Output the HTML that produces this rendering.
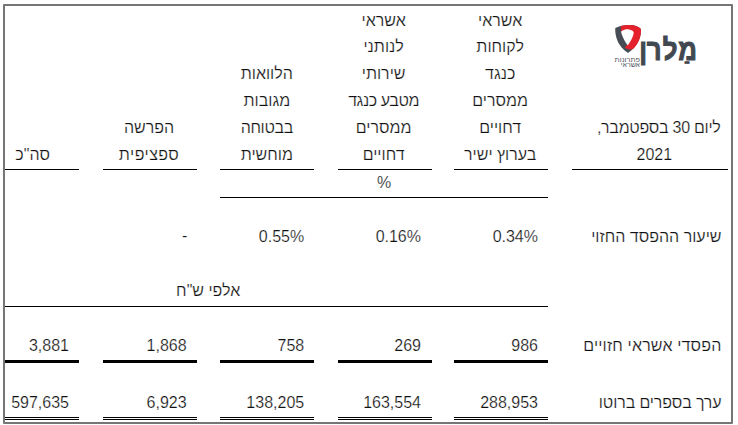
<!DOCTYPE html>
<html lang="he">
<head>
<meta charset="utf-8">
<title>מלרן</title>
<style>
html,body{margin:0;padding:0;background:#fff;}
body{width:738px;height:425px;position:relative;overflow:hidden;font-family:"Liberation Sans",sans-serif;font-size:16px;color:#111;-webkit-text-stroke:0.22px #fff;}
.frame{position:absolute;left:3px;top:4px;width:726px;height:416px;border:2px solid #767676;border-radius:1px;}
.l{position:absolute;background:#000;}
.t{position:absolute;white-space:nowrap;line-height:20px;height:20px;direction:rtl;}
.c{text-align:center;width:200px;}
.r{text-align:right;width:200px;direction:rtl;}
.n{direction:ltr;}
svg{position:absolute;left:605px;top:15px;}
</style>
</head>
<body>
<div class="frame"></div>

<div class="l" style="left:5px;top:169px;width:74px;height:1px"></div>
<div class="l" style="left:103px;top:169px;width:94px;height:1px"></div>
<div class="l" style="left:220px;top:169px;width:94px;height:1px"></div>
<div class="l" style="left:338px;top:169px;width:94px;height:1px"></div>
<div class="l" style="left:454px;top:169px;width:94px;height:1px"></div>
<div class="l" style="left:572px;top:169px;width:156px;height:1px"></div>
<div class="l" style="left:220px;top:197px;width:328px;height:1px"></div>
<div class="l" style="left:5px;top:306px;width:543px;height:1px"></div>
<div class="l" style="left:5px;top:360px;width:74px;height:3px"></div>
<div class="l" style="left:5px;top:417px;width:74px;height:1px"></div>
<div class="l" style="left:5px;top:419px;width:74px;height:1px"></div>
<div class="l" style="left:103px;top:360px;width:94px;height:3px"></div>
<div class="l" style="left:103px;top:417px;width:94px;height:1px"></div>
<div class="l" style="left:103px;top:419px;width:94px;height:1px"></div>
<div class="l" style="left:220px;top:360px;width:94px;height:3px"></div>
<div class="l" style="left:220px;top:417px;width:94px;height:1px"></div>
<div class="l" style="left:220px;top:419px;width:94px;height:1px"></div>
<div class="l" style="left:338px;top:360px;width:94px;height:3px"></div>
<div class="l" style="left:338px;top:417px;width:94px;height:1px"></div>
<div class="l" style="left:338px;top:419px;width:94px;height:1px"></div>
<div class="l" style="left:454px;top:360px;width:94px;height:3px"></div>
<div class="l" style="left:454px;top:417px;width:94px;height:1px"></div>
<div class="l" style="left:454px;top:419px;width:94px;height:1px"></div>
<div class="t c" style="left:400.20px;top:11.00px;">אשראי</div>
<div class="t c" style="left:400.20px;top:37.00px;">לקוחות</div>
<div class="t c" style="left:400.20px;top:64.00px;">כנגד</div>
<div class="t c" style="left:400.20px;top:91.00px;">ממסרים</div>
<div class="t c" style="left:400.20px;top:118.00px;">דחויים</div>
<div class="t c" style="left:400.20px;top:145.00px;">בערוץ ישיר</div>
<div class="t c" style="left:283.60px;top:11.00px;">אשראי</div>
<div class="t c" style="left:283.60px;top:37.00px;">לנותני</div>
<div class="t c" style="left:283.60px;top:64.00px;">שירותי</div>
<div class="t c" style="left:283.60px;top:91.00px;letter-spacing:-0.42px;">מטבע כנגד</div>
<div class="t c" style="left:283.60px;top:118.00px;">ממסרים</div>
<div class="t c" style="left:283.60px;top:145.00px;">דחויים</div>
<div class="t c" style="left:166.80px;top:64.00px;">הלוואות</div>
<div class="t c" style="left:166.80px;top:91.00px;">מגובות</div>
<div class="t c" style="left:166.80px;top:118.00px;letter-spacing:-0.35px;">בבטוחה</div>
<div class="t c" style="left:166.80px;top:145.00px;">מוחשית</div>
<div class="t c" style="left:49.10px;top:118.00px;">הפרשה</div>
<div class="t c" style="left:49.10px;top:145.00px;letter-spacing:0.45px;">ספציפית</div>
<div class="t c" style="left:-67.40px;top:145.00px;">סה"כ</div>
<div class="t r" style="left:520.60px;top:118.00px;letter-spacing:-0.27px;">ליום 30 בספטמבר,</div>
<div class="t c n" style="left:554.30px;top:145.00px;">2021</div>
<div class="t c n" style="left:284.20px;top:173.00px;">%</div>
<div class="t r n" style="left:338.00px;top:227.00px;">0.34%</div>
<div class="t r n" style="left:221.00px;top:227.00px;">0.16%</div>
<div class="t r n" style="left:104.20px;top:227.00px;">0.55%</div>
<div class="t r n" style="left:-12.60px;top:226.00px;">-</div>
<div class="t r" style="left:521.50px;top:227.00px;">שיעור ההפסד החזוי</div>
<div class="t c" style="left:108.20px;top:281.00px;">אלפי ש"ח</div>
<div class="t r n" style="left:338.00px;top:336.00px;">986</div>
<div class="t r n" style="left:221.00px;top:336.00px;">269</div>
<div class="t r n" style="left:104.20px;top:336.00px;">758</div>
<div class="t r n" style="left:-13.40px;top:336.00px;">1,868</div>
<div class="t r n" style="left:-131.00px;top:336.00px;">3,881</div>
<div class="t r" style="left:521.50px;top:336.00px;letter-spacing:0.17px;">הפסדי אשראי חזויים</div>
<div class="t r n" style="left:338.00px;top:393.00px;">288,953</div>
<div class="t r n" style="left:221.00px;top:393.00px;">163,554</div>
<div class="t r n" style="left:104.20px;top:393.00px;">138,205</div>
<div class="t r n" style="left:-13.40px;top:393.00px;">6,923</div>
<div class="t r n" style="left:-131.00px;top:393.00px;">597,635</div>
<div class="t r" style="left:521.50px;top:393.00px;letter-spacing:-0.12px;">ערך בספרים ברוטו</div>
<svg width="100" height="70" viewBox="605 15 100 70">
<path d="M615.2 29.2 C615.2 28.3 615.6 27.9 616.5 27.6 C621 25.6 626 25 630.5 25.1 C634.5 25.2 638 26.6 640.2 28.2 C640.9 28.8 641 29.6 641 30.5 C641 38 637 47 628.6 52.4 C628.2 52.7 627.7 52.7 627.3 52.4 C619 47 615.2 38 615.2 29.2 Z" fill="#474c55"/>
<path d="M620.7 26 C624 25.2 627 25 630.5 25.1 C634.5 25.2 638 26.6 640.2 28.2 C640.9 28.8 641 29.6 641 30.5 C641 37 638.5 43.5 633.6 48.6 C631.5 49.8 628.5 49.6 626.3 48.6 C625.2 48 624.9 47.2 625.5 46.5 L627.9 44.5 L628 33 L621.5 31.8 Z" fill="#e5212b"/>
<path d="M621.1 31.6 C623 29.9 626 29.3 627.6 29.3 C629.6 29.3 632.4 30.4 633.7 31.9 C633.9 34.5 631.9 39.5 628.1 45 C627.9 45.3 627.7 45.3 627.5 45 C624.5 41.3 621.5 35 621.1 31.6 Z" fill="#fff"/>
<text transform="translate(698.1 59.9) scale(0.97 1.09)" x="0" y="0" dx="0 0 0 0 1.5" letter-spacing="1.2" text-anchor="end" font-family="Liberation Sans, sans-serif" font-weight="bold" font-size="26.5" fill="#424850" stroke="#424850" stroke-width="0.95">מַלרן</text>
<text x="640" y="61.8" text-anchor="end" font-family="Liberation Sans, sans-serif" font-size="7.4" fill="#50555c">פתרונות</text>
<text x="640" y="66.9" text-anchor="end" font-family="Liberation Sans, sans-serif" font-size="7" fill="#50555c">אשראי</text>
</svg>

</body>
</html>
